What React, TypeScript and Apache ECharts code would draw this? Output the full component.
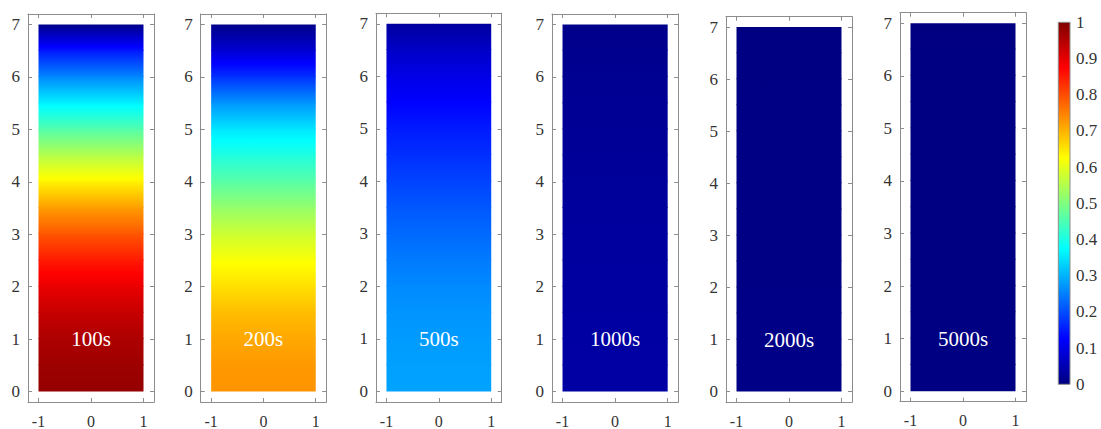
import React, { useEffect, useRef } from 'react';
import * as echarts from 'echarts';

// ---- data ----
const Y_LEVELS = [0, 0.5, 1, 1.5, 2, 2.5, 3, 3.5, 4, 4.5, 5, 5.5, 6, 6.5, 7];
const C_100S = [0.98, 0.97, 0.955, 0.93, 0.895, 0.85, 0.79, 0.72, 0.635, 0.55, 0.455, 0.36, 0.255, 0.145, 0.01];
const C_200S = [0.73, 0.725, 0.71, 0.69, 0.655, 0.62, 0.575, 0.52, 0.46, 0.405, 0.35, 0.27, 0.17, 0.08, 0.01];
const C_500S = [0.285, 0.282, 0.277, 0.27, 0.26, 0.245, 0.228, 0.21, 0.19, 0.17, 0.15, 0.125, 0.1, 0.07, 0.03];
const C_1000S = [0.035, 0.035, 0.034, 0.033, 0.032, 0.031, 0.03, 0.028, 0.026, 0.024, 0.022, 0.02, 0.017, 0.014, 0.01];
const C_2000S = [0.006, 0.006, 0.006, 0.006, 0.005, 0.005, 0.005, 0.005, 0.005, 0.004, 0.004, 0.004, 0.003, 0.003, 0.002];
const C_5000S = [0.002, 0.002, 0.002, 0.002, 0.002, 0.002, 0.002, 0.002, 0.002, 0.002, 0.002, 0.002, 0.002, 0.002, 0.001];
const PROFILES = [C_100S, C_200S, C_500S, C_1000S, C_2000S, C_5000S];
const TIME_LABELS = ['100s', '200s', '500s', '1000s', '2000s', '5000s'];
const X_TICKS = [-1, 0, 1];
const Y_TICKS = [0, 1, 2, 3, 4, 5, 6, 7];
const X_RANGE = [-1.2, 1.2];
const Y_RANGE = [-0.2, 7.2];
const PLATE_X = [-1, 1];
const LABEL_AT = [0, 1];
const CB_RANGE = [0, 1];
const CB_INTERVAL = 0.1;
const JET_KNOTS = [0, 0.125, 0.375, 0.625, 0.875, 1];

// ---- layout ----
const PANELS = [
  { left: 28, top: 14, width: 126, height: 388.7 },
  { left: 200.7, top: 14, width: 125.5, height: 388.7 },
  { left: 376, top: 13.3, width: 125.7, height: 389 },
  { left: 552, top: 14, width: 126.2, height: 388.7 },
  { left: 726, top: 16.7, width: 126, height: 386.3 },
  { left: 900, top: 12.7, width: 126, height: 389 },
];
const CB_GRID = { left: 1058.3, top: 22.3, width: 11.7, height: 362 };
const FONT = '"Liberation Serif", "Times New Roman", serif';
const AX = '#8c8c8c';
const TXT = '#333333';

function clamp(x: number) {
  return Math.max(0, Math.min(1, x));
}
function jet(v: number) {
  const r = clamp(1.5 - Math.abs(4 * v - 3));
  const g = clamp(1.5 - Math.abs(4 * v - 2));
  const b = clamp(1.5 - Math.abs(4 * v - 1));
  return `rgb(${Math.round(r * 255)},${Math.round(g * 255)},${Math.round(b * 255)})`;
}
function gradStops(v0: number, v1: number) {
  const stops: { offset: number; color: string }[] = [{ offset: 0, color: jet(v0) }];
  if (v1 !== v0) {
    JET_KNOTS.forEach((k) => {
      if ((k - v0) * (k - v1) < 0) stops.push({ offset: (k - v0) / (v1 - v0), color: jet(k) });
    });
  }
  stops.push({ offset: 1, color: jet(v1) });
  stops.sort((a, b) => a.offset - b.offset);
  return stops;
}

export default function App() {
  const ref = useRef<HTMLDivElement>(null);
  useEffect(() => {
    if (!ref.current) return;
    const chart = echarts.init(ref.current, null, { renderer: 'svg' });
    const grid: any[] = [];
    const xAxis: any[] = [];
    const yAxis: any[] = [];
    const series: any[] = [];
    const yTop = Y_LEVELS[Y_LEVELS.length - 1];

    PANELS.forEach((p, i) => {
      grid.push({ ...p, containLabel: false });
      const tick = { show: true, inside: true, length: 4, lineStyle: { color: AX, width: 1 } };
      const line = { show: true, onZero: false, lineStyle: { color: AX, width: 1 } };
      xAxis.push({
        gridIndex: i, type: 'value', min: X_RANGE[0], max: X_RANGE[1], position: 'bottom',
        axisLine: line, axisTick: { ...tick, customValues: X_TICKS },
        axisLabel: { customValues: X_TICKS, margin: 11, color: TXT, fontSize: 16, fontFamily: FONT },
        splitLine: { show: false },
      });
      xAxis.push({
        gridIndex: i, type: 'value', min: X_RANGE[0], max: X_RANGE[1], position: 'top',
        axisLine: line, axisTick: { ...tick, customValues: X_TICKS },
        axisLabel: { show: false }, splitLine: { show: false },
      });
      yAxis.push({
        gridIndex: i, type: 'value', min: Y_RANGE[0], max: Y_RANGE[1], position: 'left',
        axisLine: line, axisTick: { ...tick, customValues: Y_TICKS },
        axisLabel: { customValues: Y_TICKS, margin: 8, color: TXT, fontSize: 17, fontFamily: FONT },
        splitLine: { show: false },
      });
      yAxis.push({
        gridIndex: i, type: 'value', min: Y_RANGE[0], max: Y_RANGE[1], position: 'right',
        axisLine: line, axisTick: { ...tick, customValues: Y_TICKS },
        axisLabel: { show: false }, splitLine: { show: false },
      });
      const prof = PROFILES[i];
      const strips = Y_LEVELS.slice(0, -1).map((y, k) => [y, Y_LEVELS[k + 1], prof[k], prof[k + 1]]);
      series.push({
        type: 'custom', coordinateSystem: 'cartesian2d', xAxisIndex: 2 * i, yAxisIndex: 2 * i,
        data: strips, silent: true,
        renderItem: (_params: any, api: any) => {
          const y0 = api.value(0), y1 = api.value(1), v0 = api.value(2), v1 = api.value(3);
          const bl = api.coord([PLATE_X[0], y0]);
          const tr = api.coord([PLATE_X[1], y1]);
          const ext = y1 >= yTop ? 0 : 1;
          const top = tr[1] - ext;
          return {
            type: 'rect',
            shape: { x: bl[0], y: top, width: tr[0] - bl[0], height: bl[1] - top },
            style: { fill: new echarts.graphic.LinearGradient(0, 1, 0, 0, gradStops(v0, v1)) },
          };
        },
      });
      series.push({
        type: 'custom', coordinateSystem: 'cartesian2d', xAxisIndex: 2 * i, yAxisIndex: 2 * i,
        data: [LABEL_AT], silent: true, z: 5,
        renderItem: (_params: any, api: any) => {
          const c = api.coord([api.value(0), api.value(1)]);
          return {
            type: 'text', x: c[0], y: c[1],
            style: {
              text: TIME_LABELS[i], fill: '#ffffff', fontSize: 21, fontFamily: FONT,
              align: 'center', verticalAlign: 'middle',
            },
          };
        },
      });
    });

    const ci = PANELS.length;
    grid.push({ ...CB_GRID, containLabel: false });
    xAxis.push({ gridIndex: ci, type: 'value', min: 0, max: 1, show: false });
    xAxis.push({ gridIndex: ci, type: 'value', min: 0, max: 1, show: false, position: 'top' });
    yAxis.push({
      gridIndex: ci, type: 'value', min: CB_RANGE[0], max: CB_RANGE[1], interval: CB_INTERVAL, position: 'right',
      axisLine: { show: false }, axisTick: { show: false },
      axisLabel: { margin: 6, color: TXT, fontSize: 17, fontFamily: FONT },
      splitLine: { show: false },
    });
    yAxis.push({ gridIndex: ci, type: 'value', min: 0, max: 1, show: false, position: 'left' });
    series.push({
      type: 'custom', coordinateSystem: 'cartesian2d', xAxisIndex: 2 * ci, yAxisIndex: 2 * ci,
      data: [CB_RANGE], silent: true,
      renderItem: (_params: any, api: any) => {
        const lo = api.value(0), hi = api.value(1);
        const bl = api.coord([0, lo]);
        const tr = api.coord([1, hi]);
        const stops = JET_KNOTS.map((k) => ({ offset: (k - lo) / (hi - lo), color: jet(k) }));
        return {
          type: 'rect',
          shape: { x: bl[0], y: tr[1], width: tr[0] - bl[0], height: bl[1] - tr[1] },
          style: { fill: new echarts.graphic.LinearGradient(0, 1, 0, 0, stops), stroke: AX, lineWidth: 1 },
        };
      },
    });

    chart.setOption({
      animation: false,
      backgroundColor: '#ffffff',
      grid, xAxis, yAxis, series,
    });
    return () => chart.dispose();
  }, []);
  return <div ref={ref} style={{ position: 'absolute', left: 0, top: 0, width: 1101, height: 429 }} />;
}
